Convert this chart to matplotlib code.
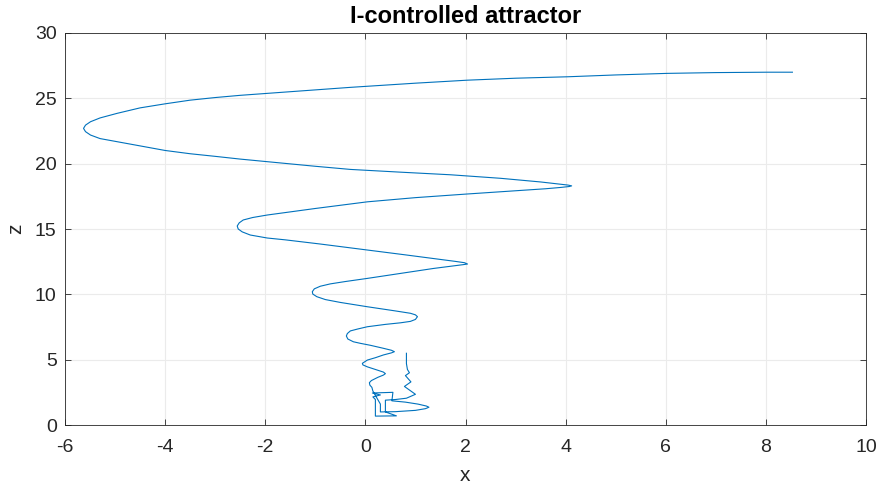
import matplotlib
matplotlib.use("Agg")
import matplotlib.pyplot as plt

# Trajectory (x, z), in drawing order
x_start = [0.82, 0.82, 0.84, 0.88, 0.80, 0.91, 0.78, 1.00, 0.82, 0.60, 0.40]
z_start = [5.49, 4.70, 4.25, 4.00, 3.78, 3.30, 2.95, 2.35, 2.05, 1.95, 1.90]

x_mess = [0.40, 0.40, 0.62, 0.20, 0.20, 0.15, 0.30, 0.14, 0.55, 0.53, 0.80, 1.05,
          1.22, 1.27, 1.20, 1.00, 0.60, 0.30, 0.30, 0.15, 0.13]
z_mess = [1.90, 1.00, 0.70, 0.68, 1.95, 2.15, 2.30, 2.45, 2.50, 1.85, 1.75, 1.60,
          1.45, 1.36, 1.25, 1.12, 1.02, 1.00, 1.60, 2.60, 2.88]

x_spiral = [0.09, 0.08, 0.12, 0.25, 0.36, 0.40, 0.36, 0.20, 0.04, -0.05, -0.06,
            -0.02, 0.04, 0.20, 0.36, 0.52, 0.58, 0.52, 0.36, 0.10, -0.10, -0.24,
            -0.35, -0.38, -0.36, -0.30, -0.15, 0.04, 0.40, 0.70, 0.90, 1.00,
            1.04, 1.00, 0.90, 0.60, 0.04, -0.50, -0.80, -0.97, -1.05, -1.06,
            -1.02, -0.90, -0.70, -0.40, 0.04, 0.70, 1.36, 1.75, 1.95, 2.04,
            1.98, 1.80, 1.40, 0.80, 0.04, -0.90, -1.60, -1.96, -2.30, -2.46,
            -2.54, -2.56, -2.52, -2.44, -2.25, -1.96, -1.00, 0.04, 1.00, 2.00,
            2.70, 3.20, 3.60, 3.90, 4.07, 4.12, 4.05, 3.85, 3.50, 3.00, 2.70,
            1.70, 0.70, -0.30, -1.00, -1.96, -2.50, -3.00, -3.50, -4.00, -4.50,
            -4.96, -5.30, -5.49, -5.59, -5.63, -5.59, -5.49, -5.30, -4.96,
            -4.50, -4.00, -3.50, -3.00, -2.50, -1.96, -1.00, -0.30, 1.00, 2.04,
            3.00, 4.04, 5.00, 6.03, 7.00, 8.03, 8.53]
z_spiral = [3.05, 3.24, 3.40, 3.65, 3.82, 3.93, 4.05, 4.25, 4.45, 4.60, 4.72,
            4.82, 4.97, 5.15, 5.36, 5.52, 5.61, 5.72, 5.87, 6.10, 6.25, 6.37,
            6.58, 6.81, 7.00, 7.20, 7.35, 7.52, 7.70, 7.82, 7.93, 8.08,
            8.29, 8.43, 8.55, 8.73, 9.05, 9.38, 9.60, 9.82, 10.02, 10.20,
            10.42, 10.62, 10.80, 10.98, 11.22, 11.60, 11.98, 12.17, 12.27, 12.32,
            12.42, 12.52, 12.72, 13.02, 13.39, 13.85, 14.17, 14.31, 14.54, 14.78,
            15.00, 15.23, 15.47, 15.69, 15.88, 16.07, 16.57, 17.08, 17.40, 17.67,
            17.85, 17.98, 18.08, 18.18, 18.25, 18.30, 18.36, 18.45, 18.60, 18.78,
            18.88, 19.15, 19.35, 19.56, 19.80, 20.15, 20.35, 20.56, 20.76, 21.01,
            21.36, 21.68, 21.92, 22.19, 22.45, 22.70, 22.95, 23.21, 23.50, 23.85,
            24.27, 24.58, 24.86, 25.06, 25.23, 25.38, 25.64, 25.84, 26.16, 26.39,
            26.54, 26.65, 26.79, 26.91, 26.97, 27.00, 27.00]

xs = x_start + x_mess + x_spiral
zs = z_start + z_mess + z_spiral

x_ticks = [-6, -4, -2, 0, 2, 4, 6, 8, 10]
z_ticks = [0, 5, 10, 15, 20, 25, 30]

plt.rcParams['font.family'] = ['Liberation Sans', 'DejaVu Sans']
plt.rcParams['axes.unicode_minus'] = False
fig = plt.figure(figsize=(8.82, 4.9), dpi=100)
ax = fig.add_axes([65 / 882, 65 / 490, 801 / 882, 392 / 490])
ax.plot(xs, zs, color='#0072BD', linewidth=0.8)
ax.set_xlim(-6, 10)
ax.set_ylim(0, 30)
ax.set_xticks(x_ticks)
ax.set_yticks(z_ticks)
ax.grid(True, color='#ebebeb', linewidth=0.8)
ax.set_axisbelow(True)
for s in ax.spines.values():
    s.set_color('#262626')
    s.set_linewidth(0.6)
ax.tick_params(direction='in', length=4, width=0.6, colors='#262626',
               labelsize=14, top=True, right=True)
ax.tick_params(axis='x', pad=10)
ax.tick_params(axis='y', pad=6)
ax.set_xlabel('x', fontsize=15, color='#262626', labelpad=7)
ax.set_ylabel('z', fontsize=15, color='#262626', labelpad=7)
ax.set_title('I-controlled attractor', fontsize=17, fontweight='bold',
             color='black', pad=7)
fig.savefig('out.png', dpi=100)
